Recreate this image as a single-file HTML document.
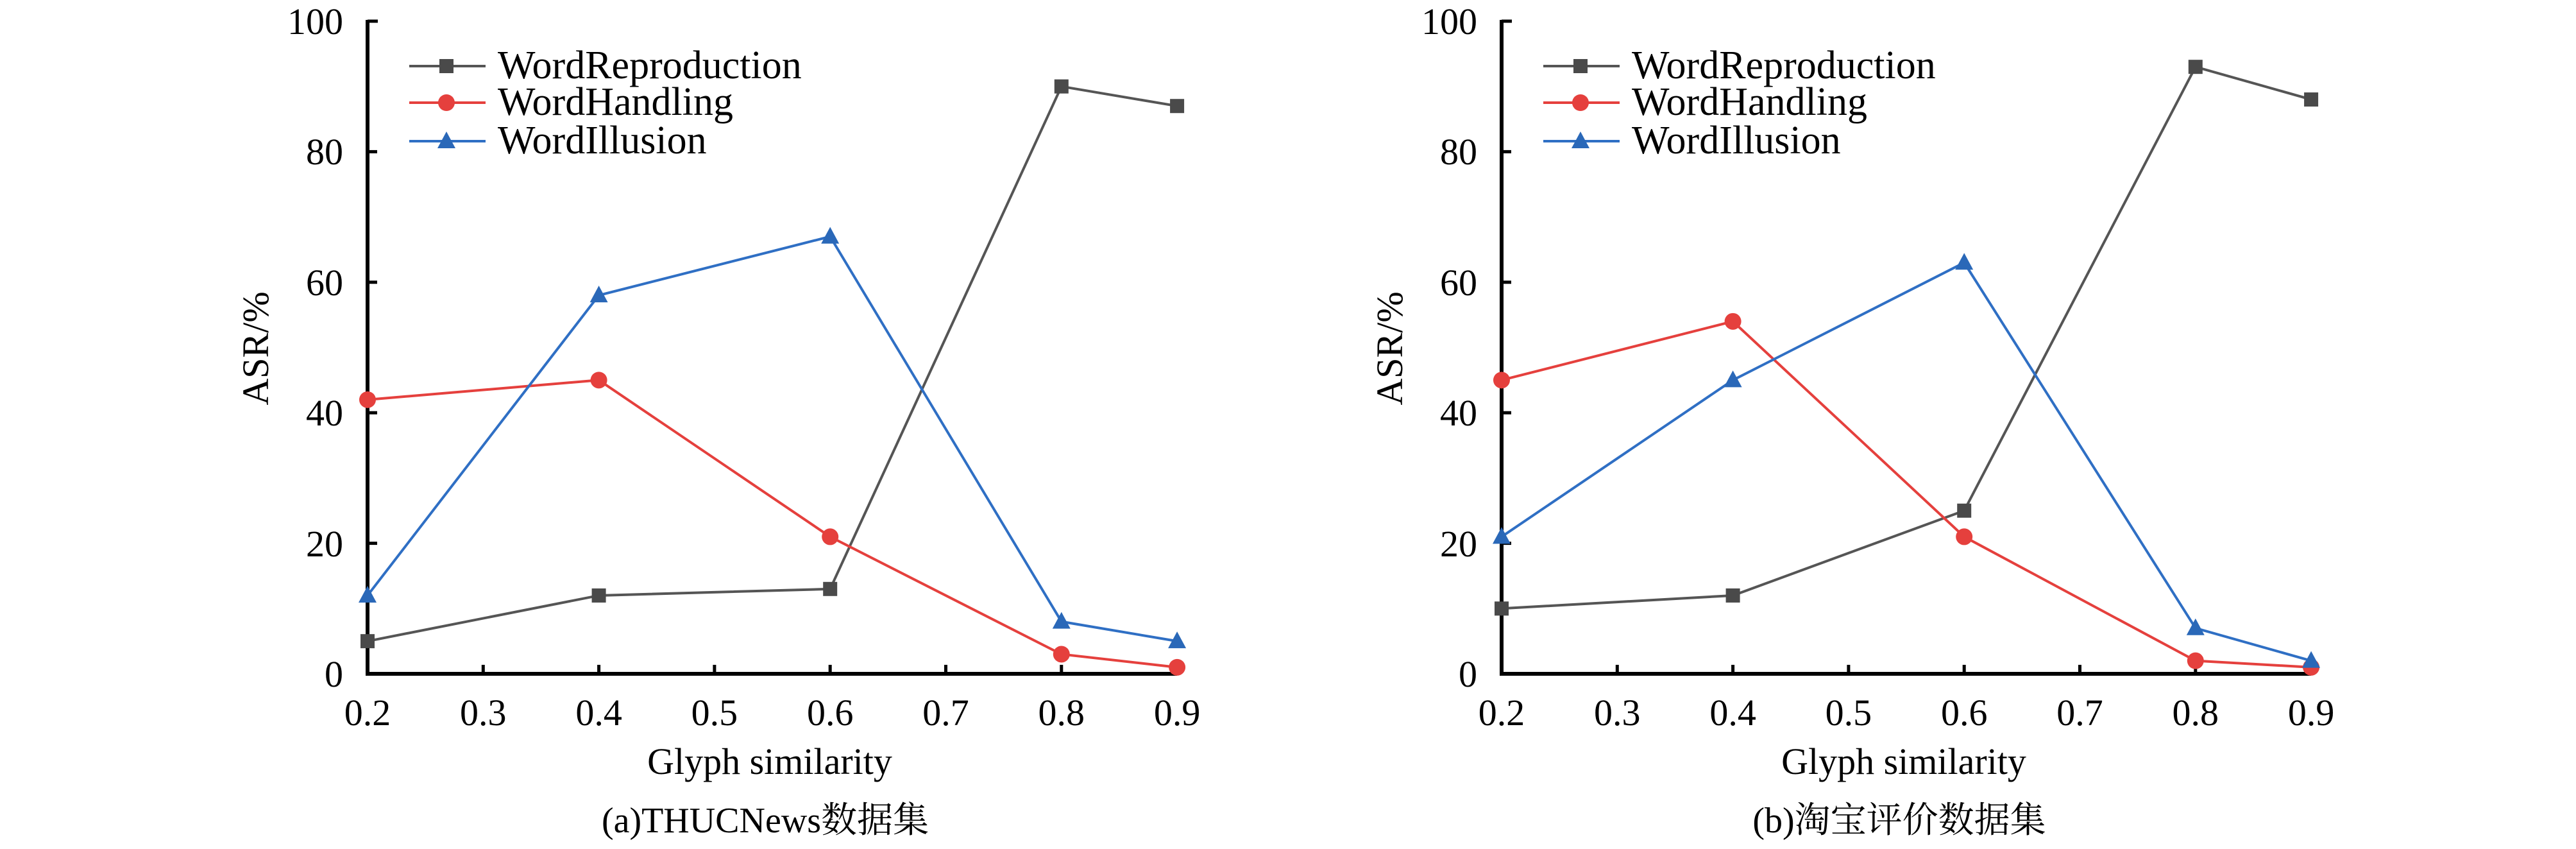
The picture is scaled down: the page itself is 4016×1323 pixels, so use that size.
<!DOCTYPE html>
<html><head><meta charset="utf-8"><style>
html,body{margin:0;padding:0;background:#fff;}
svg{display:block;}
svg text{font-family:"Liberation Serif","DejaVu Serif","Noto Serif CJK SC",serif !important;}
</style></head><body>
<svg width="4016" height="1323" viewBox="0 0 4016 1323" xmlns="http://www.w3.org/2000/svg" style="font-family:'Liberation Serif','DejaVu Serif','Noto Serif CJK SC',serif" fill="#000">
<defs>
<g id="sq"><rect x="-11" y="-11" width="22" height="22" fill="#4a4a4a"/></g>
<g id="ci"><circle r="13" fill="#e5403d"/></g>
<g id="tr"><polygon points="0,-15 14,11 -14,11" fill="#2a68b8"/></g>
<g id="common" style="font-family:'Liberation Serif','DejaVu Serif',serif">
<path d="M573 31 V1050 H1835" fill="none" stroke="#000" stroke-width="6"/>
<line x1="573" y1="33" x2="589" y2="33" stroke="#000" stroke-width="5"/>
<g stroke="#000" stroke-width="5">
<line x1="573" y1="846.6" x2="588" y2="846.6"/>
<line x1="573" y1="643.2" x2="588" y2="643.2"/>
<line x1="573" y1="439.8" x2="588" y2="439.8"/>
<line x1="573" y1="236.4" x2="588" y2="236.4"/>
<line x1="753.3" y1="1050" x2="753.3" y2="1036"/>
<line x1="933.6" y1="1050" x2="933.6" y2="1036"/>
<line x1="1113.9" y1="1050" x2="1113.9" y2="1036"/>
<line x1="1294.2" y1="1050" x2="1294.2" y2="1036"/>
<line x1="1474.5" y1="1050" x2="1474.5" y2="1036"/>
<line x1="1654.8" y1="1050" x2="1654.8" y2="1036"/>
<line x1="1835.1" y1="1050" x2="1835.1" y2="1036"/>
</g>
<g font-size="58" text-anchor="end">
<text x="535" y="1070" style="font-family:'Liberation Serif',serif">0</text>
<text x="535" y="867" style="font-family:'Liberation Serif',serif">20</text>
<text x="535" y="663" style="font-family:'Liberation Serif',serif">40</text>
<text x="535" y="460" style="font-family:'Liberation Serif',serif">60</text>
<text x="535" y="256" style="font-family:'Liberation Serif',serif">80</text>
<text x="535" y="53" style="font-family:'Liberation Serif',serif">100</text>
</g>
<g font-size="58" text-anchor="middle">
<text x="573" y="1130" style="font-family:'Liberation Serif',serif">0.2</text>
<text x="753.3" y="1130" style="font-family:'Liberation Serif',serif">0.3</text>
<text x="933.6" y="1130" style="font-family:'Liberation Serif',serif">0.4</text>
<text x="1113.9" y="1130" style="font-family:'Liberation Serif',serif">0.5</text>
<text x="1294.2" y="1130" style="font-family:'Liberation Serif',serif">0.6</text>
<text x="1474.5" y="1130" style="font-family:'Liberation Serif',serif">0.7</text>
<text x="1654.8" y="1130" style="font-family:'Liberation Serif',serif">0.8</text>
<text x="1835.1" y="1130" style="font-family:'Liberation Serif',serif">0.9</text>
<text x="1200" y="1206" style="font-family:'Liberation Serif',serif">Glyph similarity</text>
</g>
<text transform="translate(418,543) rotate(-90)" font-size="58" text-anchor="middle" style="font-family:'Liberation Serif',serif">ASR/%</text>
<line x1="638" y1="103" x2="757" y2="103" stroke="#555" stroke-width="4"/>
<use href="#sq" x="696" y="103"/>
<text x="776" y="122" font-size="62" style="font-family:'Liberation Serif',serif">WordReproduction</text>
<line x1="638" y1="160" x2="757" y2="160" stroke="#e5403d" stroke-width="4"/>
<use href="#ci" x="696" y="160"/>
<text x="776" y="179" font-size="62" style="font-family:'Liberation Serif',serif">WordHandling</text>
<line x1="638" y1="220" x2="757" y2="220" stroke="#2f6fc4" stroke-width="4"/>
<use href="#tr" x="696" y="220"/>
<text x="776" y="239" font-size="62" style="font-family:'Liberation Serif',serif">WordIllusion</text>
</g>
</defs>

<use href="#common"/>
<use href="#common" x="1768"/>

<text x="1193" y="1297" font-size="56" text-anchor="middle" style="font-family:'Liberation Serif','Noto Serif CJK SC',serif">(a)THUCNews数据集</text>
<text x="2961" y="1297" font-size="56" text-anchor="middle" style="font-family:'Liberation Serif','Noto Serif CJK SC',serif">(b)淘宝评价数据集</text>

<polyline points="573,999.15 933.6,927.96 1294.2,917.79 1654.8,134.7 1835.1,165.21" fill="none" stroke="#555" stroke-width="4"/>
<polyline points="573,622.86 933.6,592.35 1294.2,836.43 1654.8,1019.49 1835.1,1039.83" fill="none" stroke="#e5403d" stroke-width="4"/>
<polyline points="573,927.96 933.6,460.14 1294.2,368.61 1654.8,968.64 1835.1,999.15" fill="none" stroke="#2f6fc4" stroke-width="4"/>
<use href="#sq" x="573" y="999.15"/><use href="#sq" x="933.6" y="927.96"/><use href="#sq" x="1294.2" y="917.79"/><use href="#sq" x="1654.8" y="134.7"/><use href="#sq" x="1835.1" y="165.21"/>
<use href="#ci" x="573" y="622.86"/><use href="#ci" x="933.6" y="592.35"/><use href="#ci" x="1294.2" y="836.43"/><use href="#ci" x="1654.8" y="1019.49"/><use href="#ci" x="1835.1" y="1039.83"/>
<use href="#tr" x="573" y="927.96"/><use href="#tr" x="933.6" y="460.14"/><use href="#tr" x="1294.2" y="368.61"/><use href="#tr" x="1654.8" y="968.64"/><use href="#tr" x="1835.1" y="999.15"/>

<polyline points="2341,948.3 2701.6,927.96 3062.2,795.75 3422.8,104.19 3603.1,155.04" fill="none" stroke="#555" stroke-width="4"/>
<polyline points="2341,592.35 2701.6,500.82 3062.2,836.43 3422.8,1029.66 3603.1,1039.83" fill="none" stroke="#e5403d" stroke-width="4"/>
<polyline points="2341,836.43 2701.6,592.35 3062.2,409.29 3422.8,978.81 3603.1,1029.66" fill="none" stroke="#2f6fc4" stroke-width="4"/>
<use href="#sq" x="2341" y="948.3"/><use href="#sq" x="2701.6" y="927.96"/><use href="#sq" x="3062.2" y="795.75"/><use href="#sq" x="3422.8" y="104.19"/><use href="#sq" x="3603.1" y="155.04"/>
<use href="#ci" x="2341" y="592.35"/><use href="#ci" x="2701.6" y="500.82"/><use href="#ci" x="3062.2" y="836.43"/><use href="#ci" x="3422.8" y="1029.66"/><use href="#ci" x="3603.1" y="1039.83"/>
<use href="#tr" x="2341" y="836.43"/><use href="#tr" x="2701.6" y="592.35"/><use href="#tr" x="3062.2" y="409.29"/><use href="#tr" x="3422.8" y="978.81"/><use href="#tr" x="3603.1" y="1029.66"/>
</svg>
</body></html>
